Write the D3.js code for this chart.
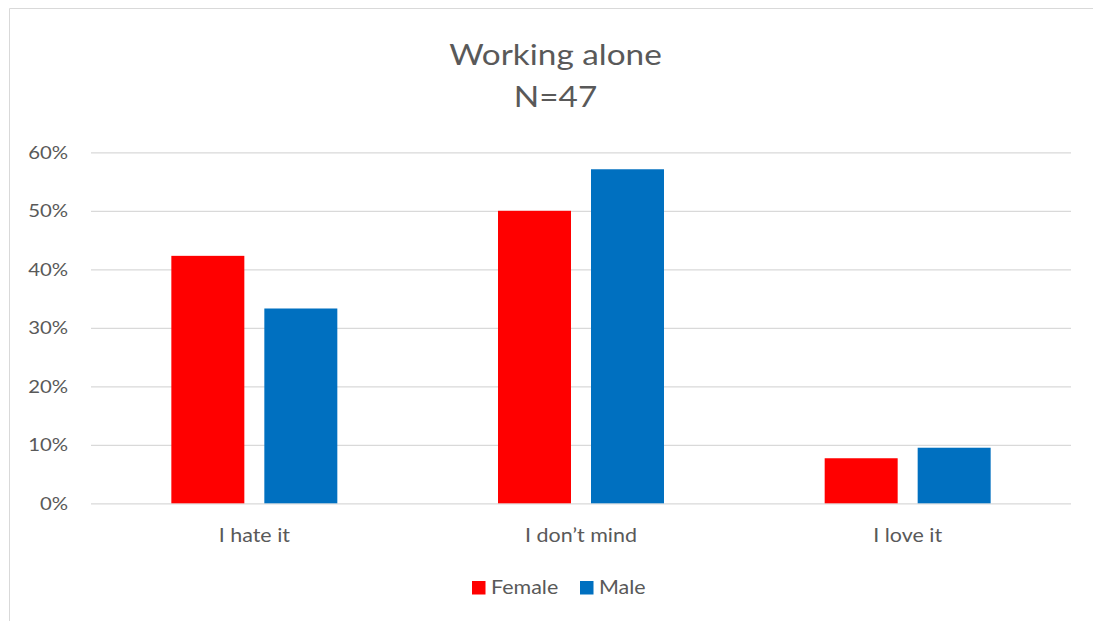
<!DOCTYPE html>
<html>
<head>
<meta charset="utf-8">
<script src="https://cdn.jsdelivr.net/npm/d3@7"></script>
<style>
  html, body { margin: 0; padding: 0; background: #fff; }
  svg { display: block; }
  text { font-family: Lato, "Open Sans", "Liberation Sans", sans-serif; fill: #595959; }
</style>
</head>
<body>
<svg id="chart" width="1093" height="621"></svg>
<script>
// Responses to "Working alone", share of each gender
const categories = ["I hate it", "I don\u2019t mind", "I love it"];
const seriesNames = ["Female", "Male"];
const femaleValues = [0.423, 0.500, 0.077];
const maleValues = [0.333, 0.571, 0.095];
const yTicks = [0, 0.1, 0.2, 0.3, 0.4, 0.5, 0.6];
const titleLines = ["Working alone", "N=47"];

const colors = { Female: "#ff0000", Male: "#0070c0" };
const valuesBySeries = { Female: femaleValues, Male: maleValues };

const W = 1093, H = 621;
const plot = { left: 91, right: 1071, top: 152.3, bottom: 503.3 };
const SX = 1.13; // horizontal stretch of glyphs

const svg = d3.select("#chart");

// chart frame (left and top edges visible)
svg.append("path")
  .attr("d", `M9.5,${H} L9.5,8.5 L${W},8.5`)
  .attr("fill", "none")
  .attr("stroke", "#d9d9d9")
  .attr("stroke-width", 1);

function label(x, y, str, size, anchor, weight) {
  return svg.append("text")
    .attr("transform", `translate(${x},${y}) scale(${SX},1)`)
    .attr("text-anchor", anchor || "middle")
    .attr("font-size", size)
    .attr("font-weight", weight || 400)
    .text(str);
}

const y = d3.scaleLinear().domain([0, 0.6]).range([plot.bottom, plot.top]);
const x0 = d3.scaleBand().domain(categories).range([plot.left, plot.right]).paddingInner(0).paddingOuter(0);
const x1 = d3.scaleBand().domain(seriesNames).range([0, x0.bandwidth()])
  .paddingInner(20 / 93).paddingOuter(0.864);

// gridlines
const yAxis = d3.axisLeft(y).tickValues(yTicks)
  .tickSize(-(plot.right - plot.left))
  .tickFormat(d3.format(".0%"));
const gy = svg.append("g")
  .attr("transform", `translate(${plot.left},0)`)
  .call(yAxis);
gy.select(".domain").remove();
gy.selectAll(".tick line").attr("stroke", "#d9d9d9").attr("stroke-width", 1.3);
gy.selectAll(".tick text").remove();

// tick labels
yTicks.forEach(t => {
  label(68, y(t) + 6.5, d3.format(".0%")(t), 18, "end");
});

// bars
const groups = svg.append("g").selectAll("g")
  .data(categories)
  .join("g")
  .attr("transform", d => `translate(${x0(d)},0)`);

groups.selectAll("rect")
  .data((d, i) => seriesNames.map(s => ({ series: s, value: valuesBySeries[s][i] })))
  .join("rect")
  .attr("x", d => x1(d.series))
  .attr("width", x1.bandwidth())
  .attr("y", d => y(d.value))
  .attr("height", d => y(0) - y(d.value))
  .attr("fill", d => colors[d.series]);

// category labels
categories.forEach(c => {
  label(x0(c) + x0.bandwidth() / 2, 542, c, 19, "middle");
});

// title
label(555.5, 65, titleLines[0], 29.5, "middle", 400);
label(555.5, 107, titleLines[1], 29.5, "middle", 400);

// legend
const legendItems = [
  { name: "Female", sq: 472, tx: 491 },
  { name: "Male", sq: 580, tx: 599 }
];
legendItems.forEach(it => {
  svg.append("rect")
    .attr("x", it.sq).attr("y", 581)
    .attr("width", 13.5).attr("height", 13.5)
    .attr("fill", colors[it.name]);
  label(it.tx, 594, it.name, 19, "start");
});
</script>
</body>
</html>
